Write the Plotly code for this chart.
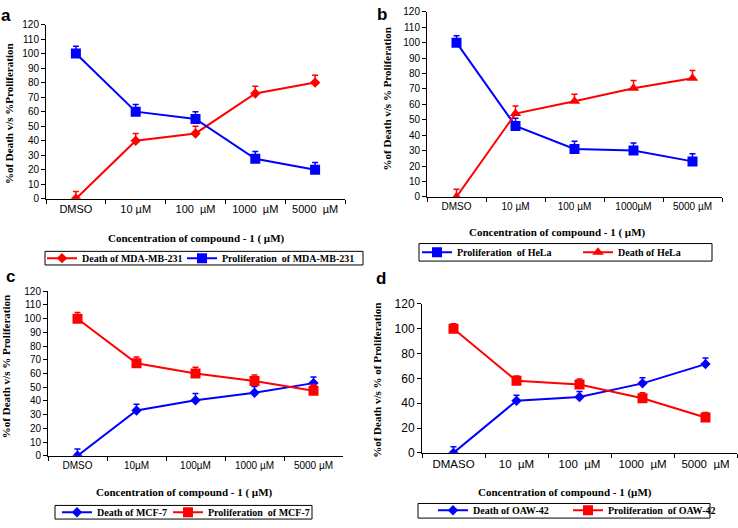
import plotly.graph_objects as go

W, H = 738, 528

# ---------------- data ----------------
cats_a = ["DMSO", "10 µM", "100  µM", "1000  µM", "5000  µM"]
death_a = [0, 40, 45, 72.5, 80]
death_a_err = [5, 5, 5, 5, 5]
prolif_a = [100, 60, 55, 27.5, 20]
prolif_a_err = [5, 5, 5, 5, 5]

cats_b = ["DMSO", "10 µM", "100 µM", "1000µM", "5000 µM"]
prolif_b = [100, 46, 31, 30, 23]
prolif_b_err = [4.5, 5, 5, 5, 5]
death_b = [0, 54, 62, 70.5, 77]
death_b_err = [5, 5, 4.5, 5, 5]

cats_c = ["DMSO", "10µM", "100µM", "1000 µM", "5000 µM"]
death_c = [0, 33, 40.5, 46, 53]
death_c_err = [5, 4.5, 5, 4.5, 4.5]
prolif_c = [100, 67.5, 60, 54.5, 47.5]
prolif_c_err = [4.5, 4.5, 4.5, 4.5, 4.5]

cats_d = ["DMASO", "10  µM", "100  µM", "1000  µM", "5000  µM"]
death_d = [0, 42, 45, 56, 71.5]
death_d_err = [5, 4.5, 4.5, 4.5, 5]
prolif_d = [100, 58, 55, 44, 28.5]
prolif_d_err = [4, 4, 4.5, 4.5, 4]

RED = "#FF0000"
BLUE = "#0000FF"

fig = go.Figure()

def px_x(p):
    return p / W

def px_y(p):
    return 1 - p / H

def add_series(name, cats, vals, err, color, symbol, size, ax, legend):
    fig.add_trace(go.Scatter(
        x=cats, y=vals, name=name, mode="lines+markers",
        line=dict(color=color, width=2),
        marker=dict(color=color, symbol=symbol, size=size),
        error_y=dict(type="data", array=err, arrayminus=[0] * len(err),
                     symmetric=False, color=color, thickness=1.5, width=3),
        xaxis="x" + ax, yaxis="y" + ax, legend=legend,
    ))

# panel a
add_series("Death of MDA-MB-231", cats_a, death_a, death_a_err, RED, "diamond", 8, "", "legend")
add_series("Proliferation  of MDA-MB-231", cats_a, prolif_a, prolif_a_err, BLUE, "square", 10, "", "legend2")
# panel b
add_series("Proliferation  of HeLa", cats_b, prolif_b, prolif_b_err, BLUE, "square", 10, "2", "legend3")
add_series("Death of HeLa", cats_b, death_b, death_b_err, RED, "triangle-up", 10, "2", "legend4")
# panel c
add_series("Death of MCF-7", cats_c, death_c, death_c_err, BLUE, "diamond", 8, "3", "legend5")
add_series("Proliferation  of MCF-7", cats_c, prolif_c, prolif_c_err, RED, "square", 10, "3", "legend6")
# panel d
add_series("Death of OAW-42", cats_d, death_d, death_d_err, BLUE, "diamond", 8, "4", "legend7")
add_series("Proliferation  of OAW-42", cats_d, prolif_d, prolif_d_err, RED, "square", 10, "4", "legend8")

def sans(size):
    return dict(family="Liberation Sans, Arial", size=size, color="black")

serif_b = dict(family="Liberation Serif, Times New Roman", size=11, color="black", weight="bold")

panels = {
    "": dict(x=(46, 345), y=(197, 18), dtick=10, yfs=10, xfs=11),
    "2": dict(x=(427, 722), y=(195, 5), dtick=10, yfs=10, xfs=10),
    "3": dict(x=(48, 343), y=(461, 292), dtick=10, yfs=10, xfs=10),
    "4": dict(x=(422, 737), y=(458, 305), dtick=20, yfs=12, xfs=11.5),
}

layout = dict(
    width=W, height=H, margin=dict(l=0, r=0, t=0, b=0),
    paper_bgcolor="white", plot_bgcolor="white", showlegend=True,
)
for k, p in panels.items():
    xa = "xaxis" + k
    ya = "yaxis" + k
    layout[xa] = dict(
        domain=[px_x(p["x"][0]), px_x(p["x"][1])], anchor="y" + k,
        type="category", range=[-0.5, 4.5], tickson="boundaries",
        ticks="outside", ticklen=4, tickcolor="black", tickwidth=1,
        showline=True, linecolor="black", linewidth=1, showgrid=False,
        zeroline=False, tickfont=sans(p["xfs"]), tickangle=0, fixedrange=True,
    )
    layout[ya] = dict(
        domain=[px_y(p["y"][0]), px_y(p["y"][1])], anchor="x" + k,
        range=[0, 120], dtick=p["dtick"], tick0=0,
        ticks="outside", ticklen=4, tickcolor="black", tickwidth=1,
        showline=True, linecolor="black", linewidth=1, showgrid=False,
        zeroline=False, tickfont=sans(p["yfs"]), fixedrange=True,
    )

legfont = dict(family="Liberation Serif, Times New Roman", size=10, color="black", weight="bold")
def leg(x_sym, yc):
    return dict(orientation="h", x=px_x(x_sym - 5), y=px_y(yc), xanchor="left", yanchor="middle",
                borderwidth=0, bgcolor="rgba(0,0,0,0)", font=legfont, itemwidth=30)

# (symbol start x, text centre y) for each legend entry
leg_pos = [(47, 258), (187, 258), (422, 252), (583, 252),
           (62, 519), (173, 519), (438, 517), (573, 517)]
for i, (xs, yc) in enumerate(leg_pos):
    key = "legend" if i == 0 else "legend%d" % (i + 1)
    layout[key] = leg(xs, yc)

# legend frames
boxes = [(45, 251, 363, 265), (419, 243, 712, 261), (55, 512, 312, 526), (418, 510, 710, 525)]
layout["shapes"] = [
    dict(type="rect", xref="paper", yref="paper", x0=px_x(x0), x1=px_x(x1), y0=px_y(y1), y1=px_y(y0),
         line=dict(color="black", width=1), fillcolor="rgba(0,0,0,0)", layer="below")
    for x0, y0, x1, y1 in boxes
]

fig.update_layout(**layout)

letter_font = dict(family="Liberation Sans, Arial", size=17, color="black", weight="bold")
annots = [
    # panel letters
    ("a", 6, 9, 0, letter_font),
    ("b", 382, 8, 0, letter_font),
    ("c", 10, 277, 0, letter_font),
    ("d", 381, 279, 0, letter_font),
    # y titles
    ("%of Death v/s %Proliferation", 9, 110, -90, serif_b),
    ("%of Death v/s % Proliferation", 387, 95, -90, serif_b),
    ("%of Death v/s % Proliferation", 6, 370, -90, serif_b),
    ("%of Death v/s % of Proliferation", 377, 383, -90, serif_b),
    # x titles
    ("Concentration of compound - 1 ( µM)", 196, 238, 0, serif_b),
    ("Concentration of compound - 1 ( µM)", 557, 232, 0, serif_b),
    ("Concentration of compound - 1 ( µM)", 184, 499, 0, serif_b),
    ("Concentration of compound - 1 (µM)", 565, 499, 0, serif_b),
]
for text, x, y, ang, font in annots:
    fig.add_annotation(text=text, x=px_x(x), y=px_y(y), xref="paper", yref="paper",
                       showarrow=False, textangle=ang, font=font,
                       xanchor="center", yanchor="middle")

fig.write_html(
    "out.html",
    config={"displayModeBar": False},
    post_script=(
        "document.documentElement.style.margin='0';"
        "document.body.style.margin='0';document.body.style.overflow='hidden';"
        "var d=document.getElementById('{plot_id}');"
        "d.style.position='fixed';d.style.left='0px';d.style.top='0px';"
    ),
)
